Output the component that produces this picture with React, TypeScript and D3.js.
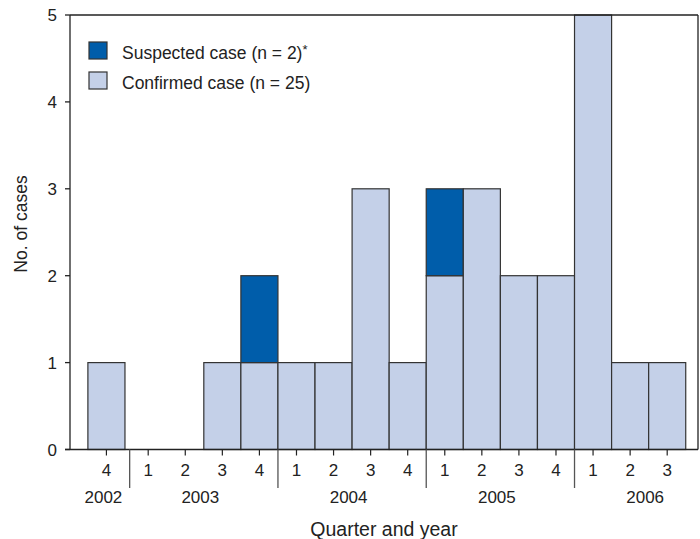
import React from "react";
import * as d3 from "d3";

const quarters = ["4", "1", "2", "3", "4", "1", "2", "3", "4", "1", "2", "3", "4", "1", "2", "3"];
const yearOfQuarter = [2002, 2003, 2003, 2003, 2003, 2004, 2004, 2004, 2004, 2005, 2005, 2005, 2005, 2006, 2006, 2006];
const years = [2002, 2003, 2004, 2005, 2006];
const confirmed = [1, 0, 0, 1, 1, 1, 1, 3, 1, 2, 3, 2, 2, 5, 1, 1];
const suspected = [0, 0, 0, 0, 1, 0, 0, 0, 0, 1, 0, 0, 0, 0, 0, 0];
const yTicks = [0, 1, 2, 3, 4, 5];
const legendItems = [
  { label: "Suspected case (n = 2)", star: true, color: "#005DAA" },
  { label: "Confirmed case (n = 25)", star: false, color: "#C4D0E8" },
];

const W = 700;
const H = 539;
const left = 70;
const right = 698;
const top = 15;
const bottom = 449.5;
const DARK = "#005DAA";
const LIGHT = "#C4D0E8";
const FONT = "'Liberation Sans', Arial, Helvetica, sans-serif";

export default function App() {
  const y = d3.scaleLinear().domain([0, 5]).range([bottom, top]);
  // slot centers; first slot (2002) sits slightly left of the regular grid
  const xi = d3.scaleLinear().domain([1, 15]).range([148.2, 667.2]);
  const w = xi(2) - xi(1);
  const firstShift = -4.7;
  const cx = (i: number) => xi(i) + (i === 0 ? firstShift : 0);

  const boundaries: number[] = [];
  for (let i = 1; i < quarters.length; i++) {
    if (yearOfQuarter[i] !== yearOfQuarter[i - 1]) boundaries.push(i);
  }

  const yearCenters = years.map((yr) => {
    const idx = yearOfQuarter.map((v, i) => (v === yr ? i : -1)).filter((i) => i >= 0);
    if (yr === 2002) return cx(idx[0]) - 3;
    const q1 = quarters[idx[0]] === "1" ? idx[0] : idx[0] - (+quarters[idx[0]] - 1);
    return (xi(q1) + xi(q1 + 3)) / 2 - 3.5;
  });

  const stroke = "#333";
  const sw = 1.2;

  return (
    <svg
      width={W}
      height={H}
      style={{ position: "absolute", left: 0, top: 0, background: "#fff" }}
      fontFamily={FONT}
    >
      {confirmed.map((c, i) => {
        const x0 = cx(i) - w / 2;
        return (
          <g key={i}>
            {c > 0 && (
              <rect x={x0} y={y(c)} width={w} height={y(0) - y(c)} fill={LIGHT} stroke={stroke} strokeWidth={sw} />
            )}
            {suspected[i] > 0 && (
              <rect
                x={x0}
                y={y(c + suspected[i])}
                width={w}
                height={y(c) - y(c + suspected[i])}
                fill={DARK}
                stroke={stroke}
                strokeWidth={sw}
              />
            )}
          </g>
        );
      })}

      <line x1={left} x2={left} y1={top} y2={bottom} stroke="#222" strokeWidth={1.3} />
      <line x1={left} x2={right} y1={top} y2={top} stroke="#222" strokeWidth={1.3} />
      <line x1={right} x2={right} y1={top} y2={bottom} stroke="#222" strokeWidth={1.3} />
      <line x1={left - 5} x2={right} y1={bottom} y2={bottom} stroke="#222" strokeWidth={1.3} />

      {yTicks.map((t) => (
        <g key={t}>
          <line x1={left - 5} x2={left} y1={y(t)} y2={y(t)} stroke="#222" strokeWidth={1.3} />
          <text x={57} y={y(t) + 6} textAnchor="end" fontSize={17} fill="#222">
            {t}
          </text>
        </g>
      ))}

      {quarters.map((q, i) => (
        <g key={i}>
          <line x1={cx(i)} x2={cx(i)} y1={bottom} y2={bottom + 6} stroke="#222" strokeWidth={1.2} />
          <text x={cx(i)} y={476} textAnchor="middle" fontSize={17} fill="#222">
            {q}
          </text>
        </g>
      ))}

      {boundaries.map((b) => {
        const bx = xi(b) - w / 2;
        return <line key={b} x1={bx} x2={bx} y1={bottom} y2={488} stroke="#555" strokeWidth={1.3} />;
      })}

      {years.map((yr, k) => (
        <text key={yr} x={yearCenters[k]} y={503} textAnchor="middle" fontSize={17} fill="#222">
          {yr}
        </text>
      ))}

      <text x={(left + right) / 2} y={536} textAnchor="middle" fontSize={19.5} fill="#222">
        Quarter and year
      </text>
      <text transform={`translate(26.5, 224) rotate(-90)`} textAnchor="middle" fontSize={17.5} fill="#222">
        No. of cases
      </text>

      {legendItems.map((it, k) => (
        <g key={k} transform={`translate(89, ${42 + k * 30})`}>
          <rect x={0} y={0} width={18} height={17} fill={it.color} stroke={stroke} strokeWidth={sw} />
          <text x={33} y={17.3} fontSize={17.5} fill="#222">
            {it.label}
            {it.star && (
              <tspan fontSize={13} dy={-5}>
                *
              </tspan>
            )}
          </text>
        </g>
      ))}
    </svg>
  );
}
